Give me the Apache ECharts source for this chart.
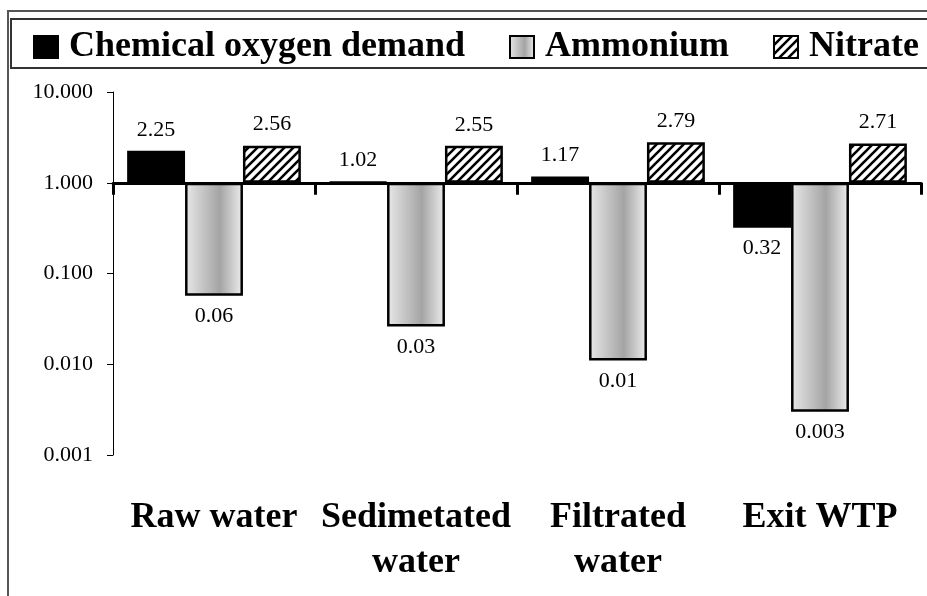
<!DOCTYPE html>
<html>
<head>
<meta charset="utf-8">
<script src="https://cdn.jsdelivr.net/npm/echarts@6/dist/echarts.min.js"></script>
<style>
	html, body { margin: 0; padding: 0; background: #fff; }
	#chart { width: 927px; height: 596px; }
</style>
</head>
<body>
<div id="chart"></div>
<script>
// 数据
const categories = ["Raw water", "Sedimetated\nwater", "Filtrated\nwater", "Exit WTP"];
const codValues = [2.25, 1.02, 1.17, 0.32];
const ammoniumValues = [0.057, 0.026, 0.011, 0.003];
const nitrateValues = [2.56, 2.55, 2.79, 2.71];
const codLabels = ["2.25", "1.02", "1.17", "0.32"];
const ammoniumLabels = ["0.06", "0.03", "0.01", "0.003"];
const nitrateLabels = ["2.56", "2.55", "2.79", "2.71"];
const yTickLabels = ["0.001", "0.010", "0.100", "1.000", "10.000"];

const serif = '"Liberation Serif", "Times New Roman", serif';

// 斜线填充
function hatchPattern() {
	const s = 9;
	const c = document.createElement("canvas");
	c.width = s;
	c.height = s;
	const ctx = c.getContext("2d");
	ctx.fillStyle = "#fff";
	ctx.fillRect(0, 0, s, s);
	ctx.strokeStyle = "#000";
	ctx.lineWidth = 2.6;
	ctx.beginPath();
	ctx.moveTo(0, s); ctx.lineTo(s, 0);
	ctx.moveTo(-s / 2, s / 2); ctx.lineTo(s / 2, -s / 2);
	ctx.moveTo(s / 2, s * 1.5); ctx.lineTo(s * 1.5, s / 2);
	ctx.stroke();
	return c;
}

// 对数值 -> 柱数据（以 1 为基线）
function toData(values, labels) {
	return values.map((v, i) => ({
		value: Math.log10(v),
		label: { position: v >= 1 ? "top" : "bottom", formatter: labels[i] },
	}));
}

const barLabel = { show: true, distance: 10, color: "#000", fontFamily: serif, fontSize: 22 };

const chart = echarts.init(document.getElementById("chart"));

const option = {
	animation: false,
	graphic: [
		{
			type: "polyline",
			shape: { points: [[8, 600], [8, 11], [935, 11]] },
			style: { stroke: "#555", lineWidth: 2, fill: null },
			z: -1,
		},
		{
			type: "rect",
			shape: { x: 11, y: 19, width: 930, height: 49 },
			style: { stroke: "#333", lineWidth: 2, fill: null },
			z: -1,
		},
	],
	legend: {
		left: 33,
		top: 29,
		padding: 0,
		icon: "rect",
		itemWidth: 24,
		itemHeight: 22,
		itemGap: 44,
		textStyle: {
			fontFamily: serif,
			fontSize: 36,
			fontWeight: "bold",
			color: "#000",
			padding: [0, 0, 0, 6],
		},
	},
	grid: { left: 113, right: 6, top: 92, bottom: 141 },
	xAxis: [
		{
			type: "category",
			data: categories,
			position: "bottom",
			axisLine: { onZero: true, lineStyle: { color: "#000", width: 3 } },
			axisTick: { show: true, inside: false, length: 12, lineStyle: { color: "#000", width: 3 } },
			axisLabel: { show: false },
		},
		{
			type: "category",
			data: categories,
			position: "bottom",
			axisLine: { show: false, onZero: false },
			axisTick: { show: false },
			axisLabel: {
				margin: 40,
				interval: 0,
				color: "#000",
				fontFamily: serif,
				fontSize: 36,
				fontWeight: "bold",
				lineHeight: 45,
			},
		},
	],
	yAxis: {
		type: "value",
		min: -3,
		max: 1,
		interval: 1,
		splitLine: { show: false },
		axisLine: { show: true, lineStyle: { color: "#000", width: 1 } },
		axisTick: { show: true, length: 6, lineStyle: { color: "#000" } },
		axisLabel: {
			margin: 20,
			color: "#000",
			fontFamily: serif,
			fontSize: 22,
			formatter: (v) => yTickLabels[Math.round(v) + 3],
		},
	},
	series: [
		{
			name: "Chemical oxygen demand",
			type: "bar",
			xAxisIndex: 0,
			data: toData(codValues, codLabels),
			barGap: "0%",
			barCategoryGap: "14%",
			itemStyle: { color: "#000", borderColor: "#000", borderWidth: 2 },
			label: barLabel,
		},
		{
			name: "Ammonium",
			type: "bar",
			xAxisIndex: 0,
			data: toData(ammoniumValues, ammoniumLabels),
			barGap: "0%",
			barCategoryGap: "14%",
			itemStyle: {
				color: new echarts.graphic.LinearGradient(0, 0, 1, 0, [
					{ offset: 0, color: "#e8e8e8" },
					{ offset: 0.6, color: "#a4a4a4" },
					{ offset: 1, color: "#eeeeee" },
				]),
				borderColor: "#000",
				borderWidth: 2.5,
			},
			label: barLabel,
		},
		{
			name: "Nitrate",
			type: "bar",
			xAxisIndex: 0,
			data: toData(nitrateValues, nitrateLabels),
			barGap: "0%",
			barCategoryGap: "14%",
			itemStyle: {
				color: { image: hatchPattern(), repeat: "repeat" },
				borderColor: "#000",
				borderWidth: 2.5,
			},
			label: barLabel,
		},
	],
};

chart.setOption(option);
</script>
</body>
</html>
